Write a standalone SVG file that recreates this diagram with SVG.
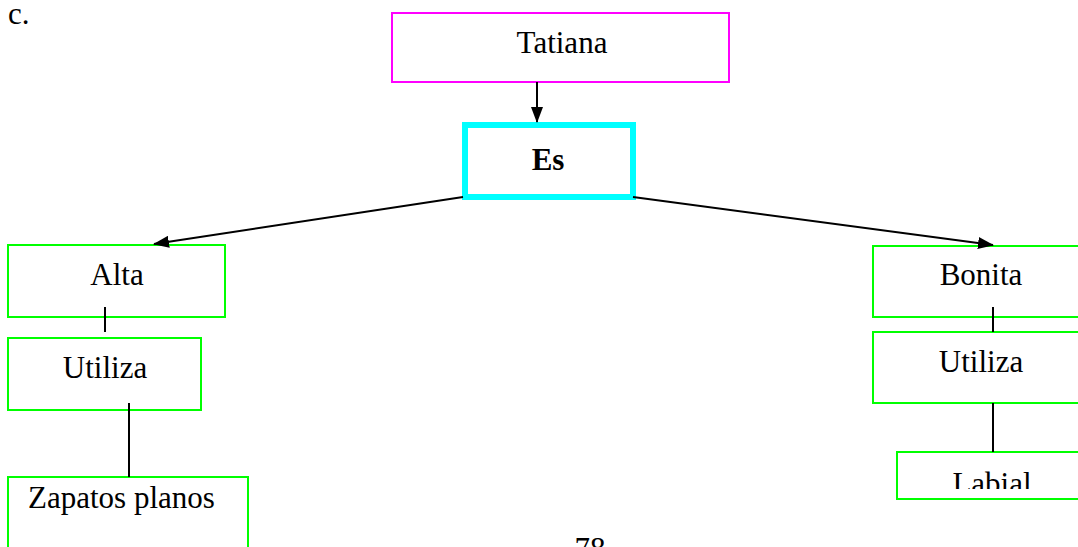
<svg xmlns="http://www.w3.org/2000/svg" width="1078" height="547" viewBox="0 0 1078 547">
<style>
text{font-family:"Liberation Serif","Times New Roman",serif;font-size:31px;fill:#000}
.g{fill:#fff;stroke:#00ff00;stroke-width:2}
.m{fill:#fff;stroke:#ff00ff;stroke-width:2}
.c{fill:#fff;stroke:#00ffff;stroke-width:6}
.l{stroke:#000;stroke-width:2;fill:none}
</style>
<defs>
<marker id="ah" markerWidth="16" markerHeight="12" refX="15" refY="6" orient="auto" markerUnits="userSpaceOnUse">
<path d="M0,0 L16,6 L0,12 Z" fill="#000"/>
</marker>
<clipPath id="labclip"><rect x="897" y="453" width="181" height="36"/></clipPath>
</defs>
<rect width="1078" height="547" fill="#fff"/>
<text x="8" y="24" font-size="29">c.</text>
<g id="tatiana"><rect class="m" x="392" y="13" width="337" height="69"/><text x="562" y="53" text-anchor="middle">Tatiana</text></g>
<g id="es"><rect class="c" x="465" y="125" width="168" height="72"/><text x="548" y="170" text-anchor="middle" font-weight="bold">Es</text></g>
<g id="alta"><rect class="g" x="8" y="245" width="217" height="72"/><text x="117" y="285" text-anchor="middle">Alta</text></g>
<g id="utiliza1"><rect class="g" x="8" y="338" width="193" height="72"/><text x="105" y="378" text-anchor="middle">Utiliza</text></g>
<g id="zapatos"><rect class="g" x="8" y="477" width="240" height="80"/><text x="28" y="508">Zapatos planos</text></g>
<g id="bonita"><rect class="g" x="873" y="246" width="210" height="71"/><text x="981" y="285" text-anchor="middle">Bonita</text></g>
<g id="utiliza2"><rect class="g" x="873" y="332" width="210" height="71"/><text x="981" y="372" text-anchor="middle">Utiliza</text></g>
<g id="labial"><rect class="g" x="897" y="452" width="190" height="47"/><text x="992" y="494" text-anchor="middle" clip-path="url(#labclip)">Labial</text></g>
<text x="590" y="559" text-anchor="middle">78</text>
<g id="connectors">
<line class="l" x1="537" y1="82" x2="537" y2="122" marker-end="url(#ah)"/>
<line class="l" x1="463" y1="197" x2="154" y2="244" marker-end="url(#ah)"/>
<line class="l" x1="633" y1="197" x2="993" y2="245" marker-end="url(#ah)"/>
<line class="l" x1="105" y1="307" x2="105" y2="332"/>
<line class="l" x1="129" y1="403" x2="129" y2="477"/>
<line class="l" x1="993" y1="307" x2="993" y2="332"/>
<line class="l" x1="993" y1="403" x2="993" y2="452"/>
</g>
</svg>
